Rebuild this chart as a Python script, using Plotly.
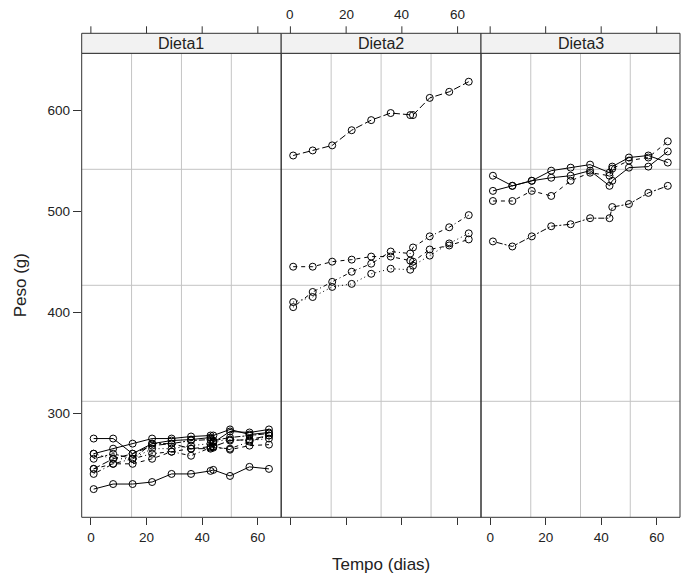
import plotly.graph_objects as go

# Body weight of rats (g) over time (days), three diets
tempo = [1, 8, 15, 22, 29, 36, 43, 44, 50, 57, 64]

dieta1 = {
    "1": [240, 250, 255, 260, 262, 258, 266, 266, 265, 272, 278],
    "2": [225, 230, 230, 232, 240, 240, 243, 244, 238, 247, 245],
    "3": [245, 250, 250, 255, 262, 265, 267, 267, 264, 268, 269],
    "4": [260, 255, 255, 265, 265, 268, 270, 272, 274, 273, 275],
    "5": [255, 260, 255, 270, 270, 273, 274, 273, 276, 278, 280],
    "6": [260, 265, 270, 275, 275, 277, 278, 278, 284, 279, 281],
    "7": [275, 275, 260, 270, 273, 274, 276, 271, 282, 281, 284],
    "8": [245, 255, 260, 268, 270, 265, 265, 267, 273, 274, 278],
}
dieta2 = {
    "9": [410, 415, 425, 428, 438, 443, 442, 446, 456, 468, 478],
    "10": [405, 420, 430, 440, 448, 460, 458, 464, 475, 484, 496],
    "11": [445, 445, 450, 452, 455, 455, 451, 450, 462, 466, 472],
    "12": [555, 560, 565, 580, 590, 597, 595, 595, 612, 618, 628],
}
dieta3 = {
    "13": [470, 465, 475, 485, 487, 493, 493, 504, 507, 518, 525],
    "14": [535, 525, 530, 533, 535, 540, 525, 530, 543, 544, 559],
    "15": [520, 525, 530, 540, 543, 546, 538, 544, 553, 555, 548],
    "16": [510, 510, 520, 515, 530, 538, 535, 542, 550, 553, 569],
}
paineis = ["Dieta1", "Dieta2", "Dieta3"]
x_ticks = [0, 20, 40, 60]
y_ticks = [300, 400, 500, 600]

# line type for each rat (lattice-style superpose cycle)
lty = {
    "2": "solid", "3": "4px,4px", "4": "1px,3px", "1": "1px,3px,4px,3px",
    "8": "7px,3px", "5": "2px,2px,6px,2px", "6": "solid", "7": "solid",
    "11": "4px,4px", "9": "1px,3px", "10": "1px,3px,4px,3px",
    "12": "7px,3px", "13": "2px,2px,6px,2px", "15": "solid",
    "14": "solid", "16": "4px,4px",
}

W, H = 681, 576
X_RANGE = [-3.3, 68.4]
Y_RANGE = [197.1, 656.1]
edges = [81.7, 281.2, 481.0, 680.0]
doms = [[edges[i] / W, edges[i + 1] / W] for i in range(3)]
y_dom = [1 - 517.3 / H, 1 - 53.3 / H]
strip_top = 1 - 33.3 / H
FONT = "Liberation Sans, Arial, sans-serif"
INK = "#222"

fig = go.Figure()

for i, grupo in enumerate([dieta1, dieta2, dieta3]):
    sfx = "" if i == 0 else str(i + 1)
    for rato, pesos in grupo.items():
        fig.add_trace(go.Scatter(
            x=tempo, y=pesos, mode="lines+markers", name="Rato " + rato,
            xaxis="x" + sfx, yaxis="y" + sfx, showlegend=False,
            line=dict(color="black", width=1, dash=lty[rato]),
            marker=dict(symbol="circle-open", size=7, color="black",
                        line=dict(width=1, color="black")),
        ))

tick_font = dict(family=FONT, size=13.5, color=INK)

layout = dict(
    width=W, height=H, margin=dict(l=0, r=0, t=0, b=0),
    paper_bgcolor="white", plot_bgcolor="white",
)
for i in range(3):
    sfx = "" if i == 0 else str(i + 1)
    # bottom axis: labels on panels 1 and 3
    layout["xaxis" + sfx] = dict(
        range=X_RANGE, tickvals=x_ticks, ticks="outside", ticklen=7,
        tickwidth=1, tickcolor="#333", showgrid=False, zeroline=False,
        showline=False, tickfont=tick_font, domain=doms[i],
        anchor="y" + sfx, side="bottom", showticklabels=(i != 1),
    )
    layout["yaxis" + sfx] = dict(
        range=Y_RANGE, domain=y_dom, anchor="x" + sfx, tickvals=y_ticks,
        ticks="outside" if i == 0 else "", ticklen=8, tickcolor="#333",
        showticklabels=(i == 0), showgrid=False, zeroline=False,
        showline=False, tickfont=tick_font,
    )

shapes = []
annotations = []
for i in range(3):
    sfx = "" if i == 0 else str(i + 1)
    xd, yd = "x" + sfx + " domain", "y" + sfx + " domain"
    # reference grid at quarter divisions of each panel
    for f in (0.25, 0.5, 0.75):
        shapes.append(dict(type="line", xref=xd, yref=yd, x0=f, x1=f, y0=0, y1=1,
                           line=dict(color="#c4c4c4", width=1), layer="below"))
        shapes.append(dict(type="line", xref=xd, yref=yd, x0=0, x1=1, y0=f, y1=f,
                           line=dict(color="#c4c4c4", width=1), layer="below"))
    # panel border
    shapes.append(dict(type="rect", xref=xd, yref=yd, x0=0, x1=1, y0=0, y1=1,
                       line=dict(color="#333", width=1), fillcolor="rgba(0,0,0,0)"))
    # strip
    shapes.append(dict(type="rect", xref="paper", yref="paper",
                       x0=doms[i][0], x1=doms[i][1], y0=y_dom[1], y1=strip_top,
                       line=dict(color="#333", width=1), fillcolor="#f2f2f2"))
    annotations.append(dict(
        text=paineis[i], xref="paper", yref="paper",
        x=(doms[i][0] + doms[i][1]) / 2, y=(y_dom[1] + strip_top) / 2,
        showarrow=False, xanchor="center", yanchor="middle",
        font=dict(family=FONT, size=16, color=INK),
    ))
    # top axis above the strip (labels on the middle panel only)
    for t in x_ticks:
        shapes.append(dict(type="line", xref="x" + sfx, yref="paper",
                           x0=t, x1=t, y0=strip_top, y1=strip_top + 7 / H,
                           line=dict(color="#333", width=1)))
        if i == 1:
            annotations.append(dict(
                text=str(t), xref="x" + sfx, yref="paper", x=t, y=1 - 14 / H,
                showarrow=False, xanchor="center", yanchor="middle",
                font=tick_font,
            ))

annotations.append(dict(
    text="Tempo (dias)", xref="paper", yref="paper",
    x=(doms[0][0] + doms[2][1]) / 2, y=1 - 564 / H, showarrow=False,
    xanchor="center", yanchor="middle",
    font=dict(family=FONT, size=17, color=INK),
))
annotations.append(dict(
    text="Peso (g)", xref="paper", yref="paper",
    x=20 / W, y=(y_dom[0] + y_dom[1]) / 2, showarrow=False, textangle=-90,
    xanchor="center", yanchor="middle",
    font=dict(family=FONT, size=17, color=INK),
))

layout["shapes"] = shapes
layout["annotations"] = annotations
fig.update_layout(**layout)

fig.write_html("out.html")
